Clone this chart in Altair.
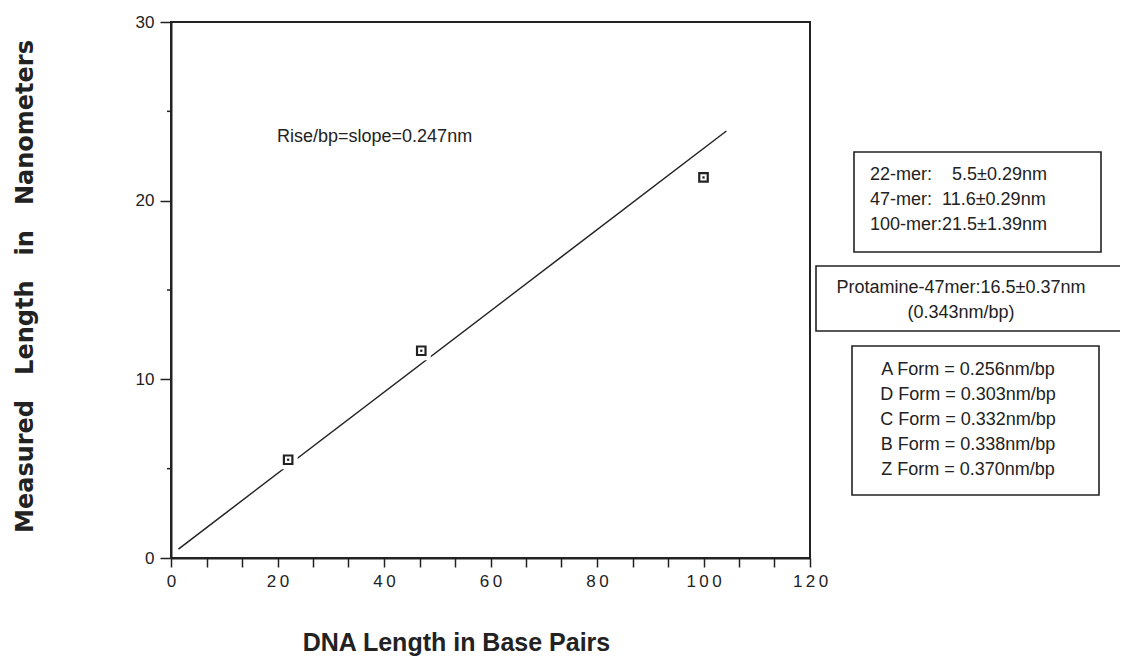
import altair as alt
import pandas as pd

# ---- data ----
bp = [22, 47, 100]
length_nm = [5.5, 11.6, 21.3]
fit_bp = [1.4, 104.3]
fit_nm = [0.5, 23.9]

x_tick_values = [0, 6.667, 13.333, 20, 26.667, 33.333, 40, 46.667, 53.333, 60,
                 66.667, 73.333, 80, 86.667, 93.333, 100, 106.667, 113.333, 120]
y_major_ticks = [0, 10, 20, 30]
y_minor_ticks = [5, 15, 25]

x_title = "DNA Length in Base Pairs"
y_title_words = ["Measured", "Length", "in", "Nanometers"]
slope_text = "Rise/bp=slope=0.247nm"
mer_lines = ["22-mer:\u00a0\u00a0\u00a0\u00a05.5\u00b10.29nm",
             "47-mer:\u00a0\u00a011.6\u00b10.29nm",
             "100-mer:21.5\u00b11.39nm"]
protamine_lines = ["Protamine-47mer:16.5\u00b10.37nm", "(0.343nm/bp)"]
form_lines = ["A Form = 0.256nm/bp", "D Form = 0.303nm/bp", "C Form = 0.332nm/bp",
              "B Form = 0.338nm/bp", "Z Form = 0.370nm/bp"]

pts = pd.DataFrame({"x": bp, "y": length_nm})
fit = pd.DataFrame({"x": fit_bp, "y": fit_nm})
minor = pd.DataFrame({"y": y_minor_ticks})
one = pd.DataFrame({"k": [0]})

INK = "#222222"
FONT = "Liberation Sans, Arial, Helvetica, sans-serif"

x_enc = alt.X(
    "x:Q",
    scale=alt.Scale(domain=[0, 120], nice=False, zero=False),
    axis=alt.Axis(
        values=x_tick_values,
        labelExpr="datum.value % 20 == 0 ? join(split(datum.label, ''), '\u2009') : ''",
        labelOverlap=False, labelFlush=False,
        tickSize=9, tickWidth=1.5, tickColor=INK,
        domainColor=INK, domainWidth=2, grid=False,
        labelFont=FONT, labelFontSize=17, labelColor=INK, labelPadding=6,
        title=x_title, titleFont=FONT,
        titleFontSize=25, titleFontWeight="bold", titleColor=INK,
        titleX=285, titleY=92, titleAlign="center", titleBaseline="alphabetic",
    ),
)
y_enc = alt.Y(
    "y:Q",
    scale=alt.Scale(domain=[0, 30], nice=False, zero=False),
    axis=alt.Axis(
        values=y_major_ticks,
        labelOverlap=False, labelFlush=False,
        tickSize=11, tickWidth=1.5, tickColor=INK,
        domainColor=INK, domainWidth=2, grid=False,
        labelFont=FONT, labelFontSize=17, labelColor=INK, labelPadding=6,
        title="\u00a0\u00a0\u00a0".join(y_title_words),
        titleFont="DejaVu Sans", titleFontSize=24, titleFontWeight="bold", titleColor=INK,
        titleX=-146, titleY=264, titleAngle=270, titleAlign="center", titleBaseline="middle",
    ),
)

fit_line = alt.Chart(fit).mark_line(color=INK, strokeWidth=1.5).encode(x=x_enc, y=y_enc)

minor_ticks = alt.Chart(minor).mark_rule(color=INK, strokeWidth=1.5).encode(
    y=y_enc, x=alt.value(-4), x2=alt.value(0)
)

halo = alt.Chart(pts).mark_point(shape="square", filled=True, color="white", size=361, opacity=1).encode(x=x_enc, y=y_enc)
marker = alt.Chart(pts).mark_point(shape="square", filled=False, color=INK, strokeWidth=2.2, size=72, opacity=1, fill="white").encode(x=x_enc, y=y_enc)
dot = alt.Chart(pts).mark_point(shape="square", filled=True, color=INK, size=5, opacity=1).encode(x=x_enc, y=y_enc)

slope_label = alt.Chart(one).mark_text(
    text=slope_text, align="left", baseline="middle", font=FONT, fontSize=18, color=INK
).encode(x=alt.value(106), y=alt.value(115))


def box(x0, x1, y0, y1):
    return alt.Chart(one).mark_rect(fill="white", fillOpacity=0, stroke=INK, strokeWidth=1.6).encode(
        x=alt.value(x0), x2=alt.value(x1), y=alt.value(y0), y2=alt.value(y1)
    )


def lines(txt, x, y, align):
    # y is the centre of the first line
    return alt.Chart(one).mark_text(
        text=txt, align=align, baseline="middle", font=FONT, fontSize=18,
        lineHeight=25, color=INK
    ).encode(x=alt.value(x), y=alt.value(y))


chart = alt.layer(
    fit_line, minor_ticks, halo, marker, dot, slope_label,
    box(683, 930, 130, 230), lines(mer_lines, 699, 153, "left"),
    box(645, 960, 244, 309), lines(protamine_lines, 790, 266, "center"),
    box(681, 928, 324, 473), lines(form_lines, 797, 348, "center"),
).properties(
    width=639, height=536,
    padding={"left": 163, "top": 14, "right": 310, "bottom": 100},
    autosize=alt.AutoSizeParams(type="none"),
    background="white",
).configure_view(stroke=INK, strokeWidth=2)

chart.save("out.html", embed_options={"renderer": "svg", "actions": False})
